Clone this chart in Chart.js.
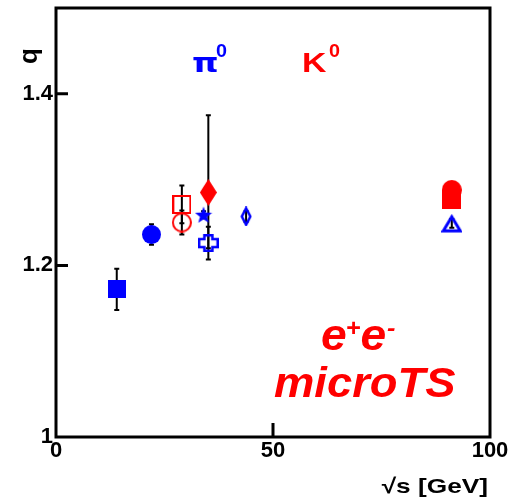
<!DOCTYPE html>
<html>
<head>
<meta charset="utf-8">
<script src="https://cdn.jsdelivr.net/npm/chart.js@4/dist/chart.umd.min.js"></script>
<style>
  html, body { margin: 0; padding: 0; background: #fff; }
  #wrap { width: 512px; height: 498px; }
</style>
</head>
<body>
<div id="wrap"><canvas id="c" width="512" height="498"></canvas></div>
<script>
// Axis ticks
const xTicks = [0, 50, 100];
const yTicks = [1, 1.2, 1.4];

// pi0 multiplicity-distribution parameter q versus sqrt(s)
const pi0Sqrts = [14.0, 22.0, 34.0, 35.1, 43.8, 91.2];
const pi0Q     = [1.172, 1.236, 1.259, 1.226, 1.257, 1.249];
const pi0ErrUp = [0.024, 0.012, 0.004, 0.019, 0.006, 0.005];
const pi0ErrDn = [0.024, 0.012, 0.004, 0.019, 0.006, 0.005];

// K0 multiplicity-distribution parameter q versus sqrt(s)
const k0Sqrts = [29.0, 29.0, 35.1, 91.2, 91.2];
const k0Q     = [1.271, 1.250, 1.285, 1.288, 1.277];
const k0ErrUp = [0.022, 0.014, 0.090, 0.004, 0.004];
const k0ErrDn = [0.022, 0.014, 0.065, 0.004, 0.004];

const BLUE = '#0000ff';
const RED = '#ff0000';
const SANS = '"Liberation Sans", Arial, sans-serif';

// ---- marker glyphs -------------------------------------------------------
function glyph(w, h, draw) {
  const c = document.createElement('canvas');
  c.width = w; c.height = h;
  const g = c.getContext('2d');
  draw(g, w, h);
  return c;
}
const filledSquare = (col, s) => glyph(s, s, (g, w, h) => { g.fillStyle = col; g.fillRect(0, 0, w, h); });
const openSquare = (col, s, lw) => glyph(s, s, (g, w, h) => {
  g.strokeStyle = col; g.lineWidth = lw; g.strokeRect(lw / 2, lw / 2, w - lw, h - lw);
});
const filledCircle = (col, d) => glyph(d, d, (g, w) => {
  g.fillStyle = col; g.beginPath(); g.arc(w / 2, w / 2, w / 2, 0, Math.PI * 2); g.fill();
});
const openCircle = (col, d, lw) => glyph(d, d, (g, w) => {
  g.strokeStyle = col; g.lineWidth = lw; g.beginPath(); g.arc(w / 2, w / 2, w / 2 - lw / 2, 0, Math.PI * 2); g.stroke();
});
const diamond = (col, w, h, fill, lw) => glyph(w, h, (g) => {
  const p = lw ? lw / 2 + 0.5 : 0;
  g.beginPath();
  g.moveTo(w / 2, p); g.lineTo(w - p, h / 2); g.lineTo(w / 2, h - p); g.lineTo(p, h / 2); g.closePath();
  if (fill) { g.fillStyle = col; g.fill(); } else { g.strokeStyle = col; g.lineWidth = lw; g.stroke(); }
});
const filledStar = (col, s) => glyph(s, s, (g, w) => {
  const cx = w / 2, cy = w / 2 + 0.8, R = w / 2, r = R * 0.42;
  g.fillStyle = col; g.beginPath();
  for (let i = 0; i < 10; i++) {
    const a = -Math.PI / 2 + i * Math.PI / 5, rr = i % 2 ? r : R;
    g.lineTo(cx + rr * Math.cos(a), cy + rr * Math.sin(a));
  }
  g.closePath(); g.fill();
});
const openCross = (col, w, h, arm, lw) => glyph(w, h, (g) => {
  const p = lw / 2, ax = (w - arm) / 2, ay = (h - arm) / 2;
  g.strokeStyle = col; g.lineWidth = lw; g.beginPath();
  g.moveTo(ax, p); g.lineTo(w - ax, p); g.lineTo(w - ax, ay); g.lineTo(w - p, ay);
  g.lineTo(w - p, h - ay); g.lineTo(w - ax, h - ay); g.lineTo(w - ax, h - p); g.lineTo(ax, h - p);
  g.lineTo(ax, h - ay); g.lineTo(p, h - ay); g.lineTo(p, ay); g.lineTo(ax, ay); g.closePath();
  g.stroke();
});
const openTriangle = (col, w, h, lw) => glyph(w, h, (g) => {
  const p = lw / 2 + 0.5;
  g.strokeStyle = col; g.lineWidth = lw; g.lineJoin = 'miter'; g.beginPath();
  g.moveTo(w / 2, p + 1); g.lineTo(w - p, h - p); g.lineTo(p, h - p); g.closePath(); g.stroke();
});

const pi0Styles = [
  filledSquare(BLUE, 18),
  filledCircle(BLUE, 19),
  filledStar(BLUE, 18),
  openCross(BLUE, 21, 18, 8, 2.5),
  diamond(BLUE, 12, 20, false, 2.5),
  openTriangle(BLUE, 21, 19, 3)
];
const k0Styles = [
  openSquare(RED, 19, 2),
  openCircle(RED, 20, 2),
  diamond(RED, 17, 27, true),
  filledCircle(RED, 20),
  filledSquare(RED, 19)
];

// text with an optional horizontal stretch
function stretchedText(ctx, txt, x, y, font, sx, align) {
  ctx.save();
  ctx.font = font;
  ctx.textAlign = align || 'left';
  ctx.translate(x, y);
  ctx.scale(sx, 1);
  ctx.fillText(txt, 0, 0);
  const w = ctx.measureText(txt).width * sx;
  ctx.restore();
  return w;
}

// ---- plugins --------------------------------------------------------------
const errorBars = {
  id: 'errorBars',
  beforeDatasetsDraw(chart) {
    const { ctx, scales: { x, y } } = chart;
    ctx.save();
    ctx.strokeStyle = '#000';
    ctx.lineWidth = 2;
    chart.data.datasets.forEach(ds => {
      ds.data.forEach(p => {
        const px = x.getPixelForValue(p.x);
        const top = y.getPixelForValue(p.y + p.up);
        const bot = y.getPixelForValue(p.y - p.dn);
        ctx.beginPath();
        ctx.moveTo(px, top); ctx.lineTo(px, bot);
        ctx.moveTo(px - 2.5, top); ctx.lineTo(px + 2.5, top);
        ctx.moveTo(px - 2.5, bot); ctx.lineTo(px + 2.5, bot);
        ctx.stroke();
      });
    });
    ctx.restore();
  }
};

const frame = {
  id: 'frame',
  afterDraw(chart) {
    const { ctx, chartArea: a, scales: { x, y } } = chart;
    ctx.save();
    ctx.strokeStyle = '#000';
    ctx.lineWidth = 3;
    ctx.strokeRect(a.left, a.top, a.right - a.left, a.bottom - a.top);
    // inward tick marks
    ctx.beginPath();
    xTicks.forEach(v => {
      const px = x.getPixelForValue(v);
      if (px > a.left + 2 && px < a.right - 2) { ctx.moveTo(px, a.bottom); ctx.lineTo(px, a.bottom - 14); }
    });
    yTicks.forEach(v => {
      const py = y.getPixelForValue(v);
      if (py > a.top + 2 && py < a.bottom - 2) { ctx.moveTo(a.left, py); ctx.lineTo(a.left + 12, py); }
    });
    ctx.stroke();

    // axis titles
    ctx.fillStyle = '#000';
    ctx.textBaseline = 'alphabetic';
    stretchedText(ctx, '\u221As [GeV]', a.right - 2, 493, 'bold 21px ' + SANS, 1.25, 'right');
    ctx.save();
    ctx.translate(37, 64);
    ctx.rotate(-Math.PI / 2);
    ctx.textAlign = 'left';
    ctx.font = 'bold 26px ' + SANS;
    ctx.fillText('q', 0, 0);
    ctx.restore();

    // species labels
    ctx.fillStyle = BLUE;
    stretchedText(ctx, '\u03C0', 192, 72, 'bold 27px "DejaVu Sans", sans-serif', 1.25);
    stretchedText(ctx, '0', 216, 57, 'bold 18px ' + SANS, 1.1);
    ctx.fillStyle = RED;
    stretchedText(ctx, 'K', 302, 72, 'bold 27px ' + SANS, 1.25);
    stretchedText(ctx, '0', 329, 57, 'bold 18px ' + SANS, 1.1);

    // process label
    const big = 'italic bold 44px ' + SANS;
    const sup = 'italic bold 24px ' + SANS;
    let cx = 321;
    cx += stretchedText(ctx, 'e', cx, 350, big, 1.05);
    cx += stretchedText(ctx, '+', cx - 1, 336, sup, 1.05) - 1;
    cx += stretchedText(ctx, 'e', cx, 350, big, 1.05);
    stretchedText(ctx, '-', cx + 1, 336, sup, 1.05);
    stretchedText(ctx, 'microTS', 274, 397, 'italic bold 42px ' + SANS, 1.08);
    ctx.restore();
  }
};

const tickFont = { family: SANS, size: 22, weight: 'bold' };

new Chart(document.getElementById('c'), {
  type: 'scatter',
  data: {
    datasets: [
      {
        label: '\u03C0\u2070',
        data: pi0Sqrts.map((s, i) => ({ x: s, y: pi0Q[i], up: pi0ErrUp[i], dn: pi0ErrDn[i] })),
        pointStyle: pi0Styles,
        order: 2
      },
      {
        label: 'K\u2070',
        data: k0Sqrts.map((s, i) => ({ x: s, y: k0Q[i], up: k0ErrUp[i], dn: k0ErrDn[i] })),
        pointStyle: k0Styles,
        order: 1
      }
    ]
  },
  options: {
    responsive: false,
    animation: false,
    events: [],
    layout: { padding: { top: 8, right: 22, left: 0, bottom: 0 } },
    plugins: { legend: { display: false }, tooltip: { enabled: false } },
    scales: {
      x: {
        type: 'linear', min: 0, max: 100,
        afterBuildTicks: s => { s.ticks = xTicks.map(v => ({ value: v })); },
        afterFit: s => { s.height = 61; s.paddingLeft = 0; s.paddingRight = 0; },
        ticks: { font: tickFont, color: '#000', padding: 1, maxRotation: 0, autoSkip: false,
                 callback: v => String(v) },
        grid: { display: false, drawTicks: false },
        border: { display: false }
      },
      y: {
        type: 'linear', min: 1, max: 1.5,
        afterBuildTicks: s => { s.ticks = yTicks.map(v => ({ value: v })); },
        afterFit: s => { s.width = 56; s.paddingTop = 0; s.paddingBottom = 0; },
        ticks: { font: tickFont, color: '#000', padding: 3, autoSkip: false,
                 callback: v => String(Math.round(v * 10) / 10) },
        grid: { display: false, drawTicks: false },
        border: { display: false }
      }
    }
  },
  plugins: [errorBars, frame]
});
</script>
</body>
</html>
